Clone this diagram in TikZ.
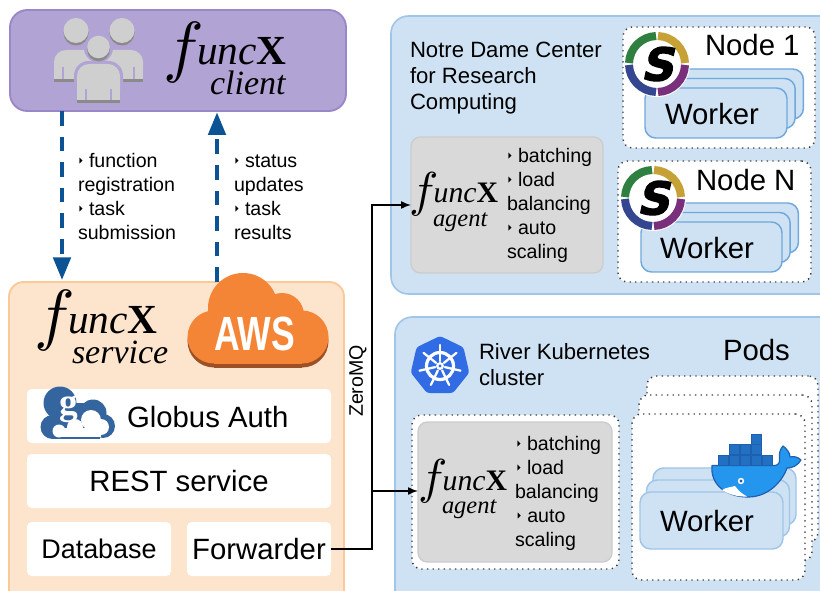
\documentclass[tikz,border=0pt]{standalone}
\usepackage{fontspec}
\usepackage{graphicx}
\setmainfont{Liberation Sans}
\newfontfamily\serifx{Liberation Serif}
\newfontfamily\djv{DejaVu Sans}
\newfontfamily\sfat[BoldFeatures={FakeBold=2.5,FakeSlant=.22}]{DejaVu Sans}
\usetikzlibrary{arrows.meta}
\definecolor{clientfill}{HTML}{B1A3D4}
\definecolor{clientline}{HTML}{9A86C8}
\definecolor{svcfill}{HTML}{FCE4CD}
\definecolor{svcline}{HTML}{FBC998}
\definecolor{sitefill}{HTML}{CFE2F3}
\definecolor{siteline}{HTML}{9FC5E8}
\definecolor{wkline}{HTML}{6FA8DC}
\definecolor{agentfill}{HTML}{D9D9D9}
\definecolor{agentline}{HTML}{CCCCCC}
\definecolor{arrowblue}{HTML}{0B5394}
\definecolor{awsor}{HTML}{F58536}
\definecolor{awsdk}{HTML}{9D5025}
\definecolor{userlt}{HTML}{CFCFCF}
\definecolor{userdk}{HTML}{8A8A8A}
\definecolor{globusb}{HTML}{34659F}
\definecolor{kblue}{HTML}{326CE5}
\definecolor{dockb}{HTML}{2496ED}
\definecolor{dockd}{HTML}{1F5FB0}
\definecolor{sgold}{HTML}{C5A136}
\definecolor{spurple}{HTML}{7A2F7C}
\definecolor{snavy}{HTML}{34468F}
\definecolor{sgreen}{HTML}{2F7F41}
\newcommand\fsS{\fontsize{14.7}{18}\selectfont}
\newcommand\fsM{\fontsize{16.6}{19.5}\selectfont}
\newcommand\fsL{\fontsize{22}{26}\selectfont}
\newcommand\bul{\makebox[8.25pt][l]{\scalebox{.55}[1]{\djv\fontsize{13}{13}\selectfont ‣}}}
% name x1 y1 x2 y2 style text
\newcommand\boxat[7]{\node[#6,inner sep=0pt,outer sep=0pt,minimum width={(#4-#2)*0.75pt},minimum height={(#5-#3)*0.75pt}] (#1) at ({(#2+#4)/2},{(#3+#5)/2}) {#7};}
% name x ybase scale sub subx subybase
\newcommand\fxlogo[7]{%
  \node[txt] (#1) at (#2,#3) {\raisebox{\fpeval{-3.75*#4}pt}{\scalebox{\fpeval{5.1*#4}}{\fontsize{10}{12}\selectfont$f$}}\kern\fpeval{-4.75*#4}pt\serifx\fontsize{\fpeval{31*#4}}{\fpeval{31*#4}}\selectfont\itshape unc{\upshape\bfseries X}};
  \node[txt] (#1sub) at (#6,#7) {\serifx\fontsize{\fpeval{25.5*#4}}{\fpeval{25.5*#4}}\selectfont\itshape #5};}
% name x1 y1 x2 y2 dx dy style text-free stack (two rear layers)
\newcommand\stackat[8]{%
  \boxat{#1c}{\fpeval{#2+2*#6}}{\fpeval{#3+2*#7}}{\fpeval{#4+2*#6}}{\fpeval{#5+2*#7}}{#8}{}
  \boxat{#1b}{\fpeval{#2+#6}}{\fpeval{#3+#7}}{\fpeval{#4+#6}}{\fpeval{#5+#7}}{#8}{}
  \boxat{#1a}{#2}{#3}{#4}{#5}{#8}{}}
\newcommand\singlogo[2]{%
  \begin{scope}[shift={(#1,#2)}]
    \fill[white] (0,0) circle[radius=33];
    \foreach \c/\a/\b in {spurple/2/88,snavy/92/178,sgreen/182/268,sgold/272/358}
      \draw[\c,line width=6pt] (\a:28) arc[start angle=\a,end angle=\b,radius=28];
    \node[inner sep=0pt] (S#1) at (0,0) {\sfat\bfseries\fontsize{34}{34}\selectfont S};
  \end{scope}}
\tikzset{
  txt/.style={anchor=base west,inner sep=0pt,outer sep=0pt,align=left},
  mlines/.style={anchor=north west,inner sep=0pt,outer sep=0pt,align=left,font=\fsS},
  clientbox/.style={draw=clientline,fill=clientfill,line width=1.4pt,rounded corners=13pt},
  svcbox/.style={draw=svcline,fill=svcfill,line width=1.4pt,rounded corners=11pt},
  sitebox/.style={draw=siteline,fill=sitefill,line width=1.2pt,rounded corners=13pt},
  whitebox/.style={fill=white,rounded corners=3.5pt,font=\fsL},
  agentbox/.style={draw=agentline,fill=agentfill,line width=1pt,rounded corners=7pt},
  dotbox/.style={draw=black!75,fill=white,line width=1.1pt,dash pattern=on 1pt off 3.2pt,rounded corners=7pt},
  workerbox/.style={draw=wkline,fill=sitefill,line width=1.1pt,rounded corners=8pt},
  podworker/.style={draw=siteline,fill=sitefill,line width=1.1pt,rounded corners=8pt},
  dasharrow/.style={arrowblue,line width=3pt,dash pattern=on 11pt off 8.2pt,-{Triangle[length=17pt,width=13pt]}},
  wire/.style={black,line width=1.1pt},
  wirearrow/.style={wire,-{Latex[length=7.5pt,width=6pt]}},
}
\begin{document}
\begin{tikzpicture}[x=0.75pt,y=-0.75pt]
\useasboundingbox (0,0) rectangle (820,591);
\clip (0,0) rectangle (820,591);
\fill[white] (0,0) rectangle (820,591);

% ---- client
\boxat{client}{10}{10}{346}{111}{clientbox}{}
% users icon
\begin{scope}
  \fill[userlt,rounded corners=9pt] (54,82) -- (54,50) -- (143,50) -- (143,82) -- cycle;
  \fill[userlt] (54,70) rectangle (143,79);
  \fill[userdk] (54,79) rectangle (143,82);
  \foreach \x in {63,134} \fill[clientfill] (\x-0.7,67) rectangle (\x+0.7,79);
  \foreach \x in {76,122} {
    \fill[userdk] (\x,33) circle[radius=12.5];
    \fill[userlt] (\x,30.5) circle[radius=12.5];
  }
  \fill[clientfill,rounded corners=11pt] (74,106) -- (74,61) -- (123,61) -- (123,106) -- cycle;
  \fill[clientfill] (97,51) rectangle (100,64);
  \fill[clientfill] (98.5,48) circle[radius=14.5];
  \fill[userlt,rounded corners=9pt] (77,103) -- (77,64) -- (120,64) -- (120,103) -- cycle;
  \fill[userlt] (77,90) rectangle (120,100);
  \fill[userdk] (77,100) rectangle (120,103);
  \foreach \x in {86,111} \fill[clientfill] (\x-0.7,89) rectangle (\x+0.7,100);
  \fill[userdk] (98.5,50) circle[radius=11.3];
  \fill[userlt] (98.5,47) circle[radius=11.3];
\end{scope}
\fxlogo{fxclient}{163}{65}{1}{client}{210}{95}

% ---- service
\boxat{service}{9}{282}{344}{620}{svcbox}{}

% ---- client/service arrows
\coordinate (xdown) at (62,0);
\coordinate (xup) at (217,0);
\draw[dasharrow] (client.south -| xdown) -- ([yshift=1.5pt]service.north -| xdown);
\draw[dasharrow] (service.north -| xup) -- ([yshift=-1pt]client.south -| xup);
\node[mlines] (lblreq) at (78,153) {\bul function\\registration\\\bul task\\submission};
\node[mlines] (lblres) at (234,155) {\bul status\\updates\\\bul task\\results};

% ---- AWS cloud
\foreach \dy/\c in {4/awsdk,0/awsor} {
  \fill[\c] (243,308+\dy) circle[radius=35];
  \fill[\c] (282,315+\dy) circle[radius=22];
  \fill[\c] (302,337+\dy) circle[radius=26.5];
  \fill[\c] (214,337+\dy) circle[radius=26.5];
  \fill[\c] (214,320+\dy) rectangle (302,363.5+\dy);
}
\node[inner sep=0pt] (aws) at (254.5,333.5) {\color{white}\scalebox{.74}[1]{\bfseries\fontsize{36}{36}\selectfont AWS}};
\fxlogo{fxservice}{34}{333}{1}{service}{72}{363}

% ---- service boxes
\boxat{globus}{27}{389}{331}{443}{whitebox}{}
\boxat{rest}{27}{454}{331}{508}{whitebox}{REST service}
\boxat{db}{27}{522}{171}{576}{whitebox,font=\fontsize{20.2}{24}\selectfont}{Database}
\boxat{fwd}{187}{522}{331}{576}{whitebox}{Forwarder}
\node[txt,font=\fsL] (globustxt) at (127,427) {Globus Auth};
% globus logo
\fill[globusb] (60,403) circle[radius=16.5];
\fill[globusb] (93,413) circle[radius=13.5];
\fill[globusb] (103,426) circle[radius=12];
\fill[globusb] (52.5,427) circle[radius=12];
\fill[globusb] (52,418) rectangle (100,439);
\fill[globusb] (60,403) rectangle (85,425);
\fill[white] (59,431) circle[radius=6.5];
\fill[white] (75,427) circle[radius=8];
\fill[white] (91,420) circle[radius=10];
\fill[white] (101,427) circle[radius=8];
\fill[white] (59,428) rectangle (101,436.5);
\node[txt,white] (globusg) at (59.5,414) {\serifx\bfseries\fontsize{28}{28}\selectfont g};

% ---- site 1
\boxat{nd}{391}{16}{840}{294}{sitebox}{}
\node[txt,font=\fsM] (ndl) at (410,57.5) {Notre Dame Center};
\node[txt,font=\fsM] (ndll) at (410,84) {for Research};
\node[txt,font=\fsM] (ndlll) at (410,110) {Computing};
\boxat{ndagent}{411}{137}{603}{273}{agentbox}{}
\fxlogo{fxnd}{409}{203}{.72}{agent}{433}{227}
\node[mlines] (ndfeat) at (507,148) {\bul batching\\\bul load\\balancing\\\bul auto\\scaling};
\boxat{node1}{623}{27}{815}{148}{dotbox}{}
\stackat{wone}{645}{88}{787}{138}{8.2}{-9.5}{workerbox}
\node[txt,font=\fsL] (wonet) at (665,124.5) {Worker};
\node[txt,font=\fsL] (n1t) at (705,56) {Node 1};
\singlogo{657}{64}
\boxat{nodeN}{618}{161}{811}{282}{dotbox}{}
\stackat{wtwo}{641}{222}{782}{272}{8.2}{-9.5}{workerbox}
\node[txt,font=\fsL] (wtwot) at (660,259) {Worker};
\node[txt,font=\fsL] (nNt) at (696,190.5) {Node N};
\singlogo{653}{198}

% ---- site 2
\boxat{k8s}{395}{317}{840}{620}{sitebox}{}
\begin{scope}[shift={(440,366)}]
  \fill[kblue,rounded corners=2pt] (-90:30) -- (-38.57:30) -- (12.86:30) -- (64.29:30) -- (115.71:30) -- (167.14:30) -- (218.57:30) -- cycle;
  \draw[white,line width=2.4pt] (0,0) circle[radius=13.5];
  \fill[white] (0,0) circle[radius=4];
  \fill[kblue] (0,0) circle[radius=1.6];
  \foreach \a in {-90,-38.57,12.86,64.29,115.71,167.14,218.57}
    \draw[white,line width=1.7pt,line cap=round] (\a:5) -- (\a:21);
\end{scope}
\node[txt,font=\fsM] (kl) at (479,359) {River Kubernetes};
\node[txt,font=\fsM] (kll) at (479,385.5) {cluster};
\node[txt,font=\fsL] (podst) at (723,360) {Pods};
\boxat{kdot}{412}{415}{619}{569}{dotbox}{}
\boxat{kagent}{418}{422}{612}{562}{agentbox}{}
\fxlogo{fxk}{418}{490}{.72}{agent}{442}{513}
\node[mlines] (kfeatb) at (516,436) {\bul batching\\\bul load};
\node[mlines] (kfeatc) at (515,484) {balancing\\\makebox[1pt]{}\bul auto\\scaling};
\boxat{podc}{647}{376}{818}{542}{dotbox}{}
\boxat{podb}{639}{395}{812}{561}{dotbox}{}
\boxat{poda}{632}{414}{805}{580}{dotbox}{}
\stackat{wpod}{640}{492}{783}{549}{6.5}{-12}{podworker}
\node[txt,font=\fsL] (wpodt) at (660,531) {Worker};
% docker whale
\begin{scope}[line join=round]
  \fill[dockb,draw=dockd,line width=.9pt] (712,465.5) -- (775,465.5) .. controls (779,465) and (780,462) .. (779.5,458) .. controls (779,454) and (780,449) .. (783,446) .. controls (787,449) and (790,453) .. (790,457) .. controls (794,456) and (798,457) .. (801,460) .. controls (798,465) and (793,468) .. (787,468) .. controls (782,482) and (768,497) .. (748,497) .. controls (728,497) and (710,486) .. (712,465.5) -- cycle;
  \fill[white] (722,490) .. controls (727,487) and (732,487) .. (735,486) .. controls (738,490) and (742,494) .. (747,496.5) .. controls (737,497) and (728,494) .. (722,490) -- cycle;
  \fill[white] (741,481) circle[radius=3.2];
  \fill[dockd] (741,481) circle[radius=1.6];
  \foreach \x/\y in {718/455,729/455,740/455,751/455,762/455,729/444.5,740/444.5,751/444.5,751/434}
    \draw[dockd,fill=dockd!70!dockb,line width=.7pt] (\x+.4,\y+.4) rectangle (\x+10.6,\y+10);
\end{scope}

% ---- connectors
\coordinate (jn) at (372,491);
\draw[wire] (fwd.east) -| (jn);
\draw[wirearrow] (jn) |- (ndagent.west |- 0,205);
\draw[wirearrow] (jn) -- (kagent.west |- jn);
\node[rotate=90,inner sep=0pt,font=\fsS] (zmq) at (358,381) {ZeroMQ};
\end{tikzpicture}
\end{document}
